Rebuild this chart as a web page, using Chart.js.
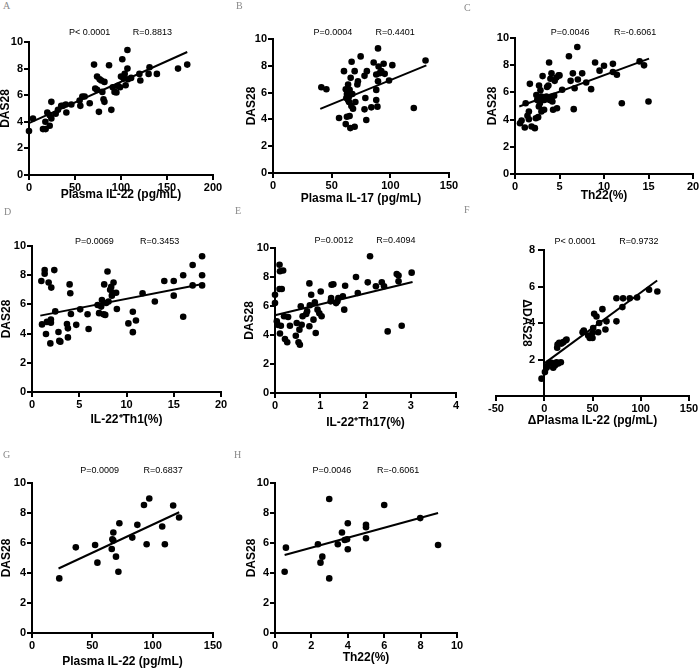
<!DOCTYPE html>
<html><head><meta charset="utf-8">
<script src="https://cdn.jsdelivr.net/npm/chart.js@4/dist/chart.umd.min.js"></script>
<style>
html,body{margin:0;padding:0;background:#fff;}
body{width:700px;height:671px;overflow:hidden;position:relative;}
canvas{position:absolute;}
.lbl{position:absolute;font-family:'Liberation Serif','DejaVu Serif',serif;font-size:10px;line-height:10px;color:#888;}
</style></head><body>
<script>
// ---------- DATA ----------
const aX = [0,4.3,15.2,18.1,17.8,19.9,22.5,22.5,24.3,24.3,29,31.5,35,37,40,40.6,46,55,55.8,58,60.5,66,70.7,72,74,74,76,76.8,78.6,79.7,81,82,82,87,89.5,91,93,95,96.7,99,100,101.4,103,104,105,107,107,107.6,111,120,121,130,131,139,162,172];
const aY = [3.3,4.25,3.45,3.45,4.0,4.7,4.5,3.7,5.5,4.25,4.6,4.9,5.2,5.2,5.3,4.7,5.3,5.6,5.2,5.9,5.9,5.4,8.3,6.5,6.4,7.4,4.75,7.2,7.1,6.25,5.7,5.5,7.0,8.25,4.9,6.6,6.25,6.2,6.7,6.6,7.4,8.7,7.25,7.6,6.75,9.4,8.0,7.2,7.3,7.6,7.1,7.6,8.1,7.6,8.0,8.3];
const aFitX = [0,172], aFitY = [3.9,9.25];

const bX = [41.2,45.5,56.3,60.5,62,62,62.5,63,64,64,64.8,65.3,65.9,66.2,66.8,67,67.6,68.2,69.6,70.2,69.6,71.9,72.4,74.7,78,78.7,78,79.5,80,83.8,85.8,88,88,89,89.5,89.5,90,88,90.9,92.3,94.3,95.2,98.9,101.7,120,130,63,64.8,65.3];
const bY = [6.4,6.25,4.1,7.6,6.25,3.65,5.6,4.2,6.6,5.45,5.3,4.25,3.35,7.1,5.0,8.3,5.9,4.8,3.45,5.3,7.6,6.6,6.85,8.7,7.25,5.6,4.75,3.95,7.6,4.9,8.25,5.45,6.2,4.95,9.3,6.85,7.95,7.35,7.45,7.6,8.15,7.4,6.9,8.05,4.85,8.4,5.9,5.7,6.2];
const bFitX = [40.3,130.7], bFitY = [4.78,8.03];

const cX = [0.56,0.74,1.1,1.2,1.4,1.56,1.56,1.67,1.86,2.23,2.34,2.4,2.5,2.6,2.68,2.7,2.8,2.86,2.97,2.97,3.1,3.16,3.27,3.3,3.53,3.6,3.75,3.83,3.9,3.98,4.1,4.1,4.2,4.28,4.4,4.46,4.65,4.72,4.9,5.0,5.3,6.06,6.25,6.5,6.6,6.7,7.0,7.06,7.55,8.0,8.55,9.0,9.5,10,11.0,11.0,11.45,12.0,14.0,14.5,15.0];
const cY = [3.73,3.93,3.42,5.2,4.28,4.03,4.6,6.63,3.49,3.37,4.1,5.8,5.45,4.18,4.96,6.5,5.2,6.15,5.7,4.6,7.2,5.5,4.72,5.45,5.7,6.4,6.5,8.2,5.45,7.0,7.4,5.7,5.33,4.72,5.75,6.85,7.1,4.84,7.25,7.25,6.2,8.66,6.85,7.4,4.77,6.3,9.34,6.95,7.4,6.73,6.24,8.2,7.6,7.96,8.1,7.5,7.3,5.2,8.28,7.99,5.33];
const cFitX = [0.48,15.06], cFitY = [4.96,8.48];

const dX = [0.99,1.06,1.34,1.34,1.48,1.58,1.76,1.94,2.0,2.0,2.04,2.36,2.46,2.8,2.89,3.0,3.7,3.8,3.8,3.98,4.05,4.12,4.68,5.1,5.88,5.99,6.94,7.1,7.32,7.4,7.57,7.64,7.75,7.85,7.99,8.1,8.27,8.38,8.45,8.56,8.63,8.9,8.98,10.2,10.67,10.67,11.0,11.7,13.0,14.0,15.0,15.0,16.0,16.0,17.0,17.0,18.0,18.0,18.0];
const dY = [7.6,4.63,8.35,8.1,3.97,4.8,7.5,3.33,4.97,4.75,7.15,8.35,5.52,4.11,3.5,3.45,4.66,4.36,3.74,7.37,6.76,5.34,4.6,5.66,5.33,4.32,5.96,5.4,5.85,6.3,5.33,7.37,5.28,6.1,8.25,6.2,7.0,7.2,6.6,6.8,7.5,6.8,5.68,4.7,5.5,4.1,4.9,6.76,6.2,7.6,7.6,6.6,8.0,5.15,8.7,7.3,9.3,8.0,7.3];
const dFitX = [0.88,18.06], dFitY = [5.23,7.4];

const eX = [0,0,0.04,0.06,0.1,0.11,0.1,0.15,0.11,0.13,0.18,0.2,0.22,0.27,0.29,0.33,0.46,0.48,0.52,0.55,0.54,0.57,0.59,0.61,0.69,0.71,0.76,0.76,0.77,0.8,0.85,0.88,0.9,0.94,0.98,1.01,1.03,1.23,1.24,1.25,1.29,1.35,1.38,1.4,1.5,1.53,1.55,1.79,1.83,2.05,2.1,2.23,2.36,2.41,2.49,2.69,2.73,2.73,2.8,3.02];
const eY = [6.78,6.2,4.94,4.7,8.85,8.4,7.17,7.17,4.1,4.64,8.45,5.29,3.72,3.5,5.24,4.64,3.95,4.83,3.5,3.33,4.37,5.98,4.71,5.29,5.45,5.63,7.56,4.6,6.05,6.78,5.06,6.25,4.14,5.75,5.5,7.0,5.29,6.32,6.55,7.47,7.5,6.2,6.32,6.55,6.67,5.75,7.4,8.0,6.9,7.63,9.43,7.36,7.63,7.36,4.25,8.2,8.1,7.7,4.64,8.3];
const eFitX = [0,3.04], eFitY = [5.36,7.66];

const fX = [-2.8,0.7,2.4,3.4,5.2,7.6,9.3,11,11.7,12.8,14.5,17.2,13.4,13.8,15.5,17.9,19.7,22.4,23.1,39.7,41,45.5,47.2,50,50,50.7,51.7,54.1,55.9,56.9,60.3,63.4,64.5,74.8,74.8,81,81.7,88.6,96.2,108.6,117.2];
const fY = [0.95,1.31,1.55,1.64,1.82,1.82,1.55,1.67,1.73,1.85,1.78,1.85,2.64,2.82,2.91,2.87,2.95,3.05,3.1,3.49,3.58,3.31,3.18,3.18,3.45,3.73,4.51,4.36,3.49,4.0,4.76,3.64,4.09,4.09,5.36,4.87,5.35,5.36,5.4,5.82,5.73];
const fFitX = [0.5,117], fFitY = [1.8,6.33];

const gX = [22.6,36.3,52.3,54.2,66.1,66.6,67.4,67.4,69.6,71.6,72.4,83.1,87.3,92.8,95,97.2,107.9,110.1,117,121.9];
const gY = [3.64,5.71,5.87,4.69,5.6,6.25,6.7,6.16,5.09,4.08,7.32,6.36,7.21,8.53,5.92,8.97,7.1,5.92,8.5,7.7];
const gFitX = [22,122], gFitY = [4.3,8.05];

const hX = [0.53,0.6,2.36,2.5,2.6,2.98,2.98,3.45,3.68,3.83,3.96,4.0,4.0,5.0,5.0,5.0,6.0,7.98,8.96];
const hY = [4.08,5.69,5.92,4.69,5.09,8.93,3.64,5.92,6.7,6.2,6.25,7.32,5.58,7.21,7.05,6.32,8.53,7.66,5.87];
const hFitX = [0.53,8.96], hFitY = [5.2,8.0];

const panelLetters = ['A','B','C','D','E','F','G','H'];
const xTitles = ['Plasma IL-22 (pg/mL)','Plasma IL-17 (pg/mL)','Th22(%)','IL-22\u207ATh1(%)','IL-22\u207ATh17(%)','\u0394Plasma IL-22 (pg/mL)','Plasma IL-22 (pg/mL)','Th22(%)'];
const yTitles = ['DAS28','DAS28','DAS28','DAS28','DAS28','\u0394DAS28','DAS28','DAS28'];
const pTexts = ['P< 0.0001','P=0.0004','P=0.0046','P=0.0069','P=0.0012','P< 0.0001','P=0.0009','P=0.0046'];
const rTexts = ['R=0.8813','R=0.4401','R=-0.6061','R=0.3453','R=0.4094','R=0.9732','R=0.6837','R=-0.6061'];
const xRanges = [[0,200,50],[0,150,50],[0,20,5],[0,20,5],[0,4,1],[-50,150,50],[0,150,50],[0,10,2]];
const yRanges = [[0,10,2],[0,10,2],[0,10,2],[0,10,2],[0,10,2],[0,8,2],[0,10,2],[0,10,2]];

// ---------- LAYOUT (page pixels) ----------
const boxes   = [[29,42,213,175],[273,39,449,173],[515,38,693,174],[32,246,221,392],[275,248,456,393],[496,250,689,396],[32,483,213,633],[275,483,457,633]];
const yAxisXs = [29,273,515,32,275,545,32,275];
const xTitleYs = [195,199,196,420,423,421,662,658];
const yTitleXs = [6,252,493,7,250,527,7,252];
const noteYs = [33,33,33,242,241,242,471,471];
const noteAt = [[66,134],[51,104],[6.2,13.5],[6.6,13.5],[1.3,2.67],[32,98],[56,108.6],[3.13,6.76]];
const letterPos = [[3,1],[236,1],[464,3],[4,207],[235,206],[464,205],[3,450],[234,450]];

const seriesX = [aX,bX,cX,dX,eX,fX,gX,hX];
const seriesY = [aY,bY,cY,dY,eY,fY,gY,hY];
const fitX = [aFitX,bFitX,cFitX,dFitX,eFitX,fFitX,gFitX,hFitX];
const fitY = [aFitY,bFitY,cFitY,dFitY,eFitY,fFitY,gFitY,hFitY];

const NARROW = "'Liberation Sans Narrow','Arial Narrow','Liberation Sans',Arial,sans-serif";
const L = 48, T = 24, R = 16, B = 52;
const TITLE_SIZE = 12, LH = TITLE_SIZE * 1.2;

const notePlugin = {
  id: 'notes',
  afterDraw(chart, args, opts) {
    const ctx = chart.ctx, xs = chart.scales.x;
    ctx.save();
    ctx.font = '9px ' + NARROW;
    ctx.fillStyle = '#000';
    ctx.textAlign = 'center';
    ctx.textBaseline = 'middle';
    opts.items.forEach(it => ctx.fillText(it.text, xs.getPixelForValue(it.at), chart.chartArea.top - opts.dy));
    ctx.restore();
  }
};

for (let i = 0; i < 8; i++) {
  const [x0, y0, x1, y1] = boxes[i];
  const w = x1 - x0 + L + R, h = y1 - y0 + T + B;
  const cv = document.createElement('canvas');
  cv.width = w; cv.height = h;
  cv.style.left = (x0 - L) + 'px'; cv.style.top = (y0 - T) + 'px';
  cv.style.width = w + 'px'; cv.style.height = h + 'px';
  document.body.appendChild(cv);

  const lt = document.createElement('div');
  lt.className = 'lbl';
  lt.textContent = panelLetters[i];
  lt.style.left = letterPos[i][0] + 'px'; lt.style.top = letterPos[i][1] + 'px';
  document.body.appendChild(lt);

  const centerY = xRanges[i][0] < 0;
  const pts = seriesX[i].map((x, k) => ({x, y: seriesY[i][k]}));
  const fit = fitX[i].map((x, k) => ({x, y: fitY[i][k]}));
  const xPad = B - LH / 2 - (xTitleYs[i] - y1);
  const yPad = yTitleXs[i] - (yAxisXs[i] - L) - LH / 2;
  const gridOpts = {display: true, drawOnChartArea: false, drawTicks: true, tickLength: 5, lineWidth: 2, tickWidth: 2, color: '#000', tickColor: '#000'};
  const tickFont = {family: NARROW, size: 11, weight: 'bold'};

  new Chart(cv, {
    type: 'scatter',
    data: {datasets: [
      {data: pts, pointRadius: 3.3, pointHoverRadius: 3.3, pointBackgroundColor: '#000', pointBorderColor: '#000', pointBorderWidth: 0, showLine: false, clip: false},
      {data: fit, pointRadius: 0, showLine: true, borderColor: '#000', borderWidth: 2, clip: false}
    ]},
    plugins: [notePlugin],
    options: {
      responsive: false, animation: false, devicePixelRatio: 1,
      layout: {padding: {left: centerY ? L : 0, top: T, right: R, bottom: 0}},
      events: [],
      plugins: {
        legend: {display: false}, tooltip: {enabled: false},
        notes: {dy: y0 - noteYs[i], items: [{text: pTexts[i], at: noteAt[i][0]}, {text: rTexts[i], at: noteAt[i][1]}]}
      },
      scales: {
        x: {
          type: 'linear', position: 'bottom',
          min: xRanges[i][0], max: xRanges[i][1],
          ticks: {stepSize: xRanges[i][2], font: tickFont, color: '#000', padding: 1, maxRotation: 0, autoSkip: false},
          grid: gridOpts,
          border: {display: true, color: '#000', width: 2},
          title: {display: true, text: xTitles[i], color: '#000', font: {family: NARROW, size: TITLE_SIZE, weight: 'bold'}, padding: {top: 0, bottom: xPad}},
          afterFit: s => { s.height = B; }
        },
        y: {
          type: 'linear', position: centerY ? {x: 0} : 'left',
          min: yRanges[i][0], max: yRanges[i][1],
          ticks: {stepSize: yRanges[i][2], font: tickFont, color: '#000', padding: 1,
                  callback: v => centerY ? (v + '   ') : String(v)},
          afterBuildTicks: s => { if (centerY) s.ticks = s.ticks.filter(t => t.value !== 0); },
          grid: gridOpts,
          border: {display: true, color: '#000', width: 2},
          title: {display: true, text: yTitles[i], color: '#000', font: {family: NARROW, size: TITLE_SIZE, weight: 'bold'}, padding: {top: yPad, bottom: yPad}},
          afterFit: s => { s.width = L; }
        }
      }
    }
  });
}
</script>
</body></html>
